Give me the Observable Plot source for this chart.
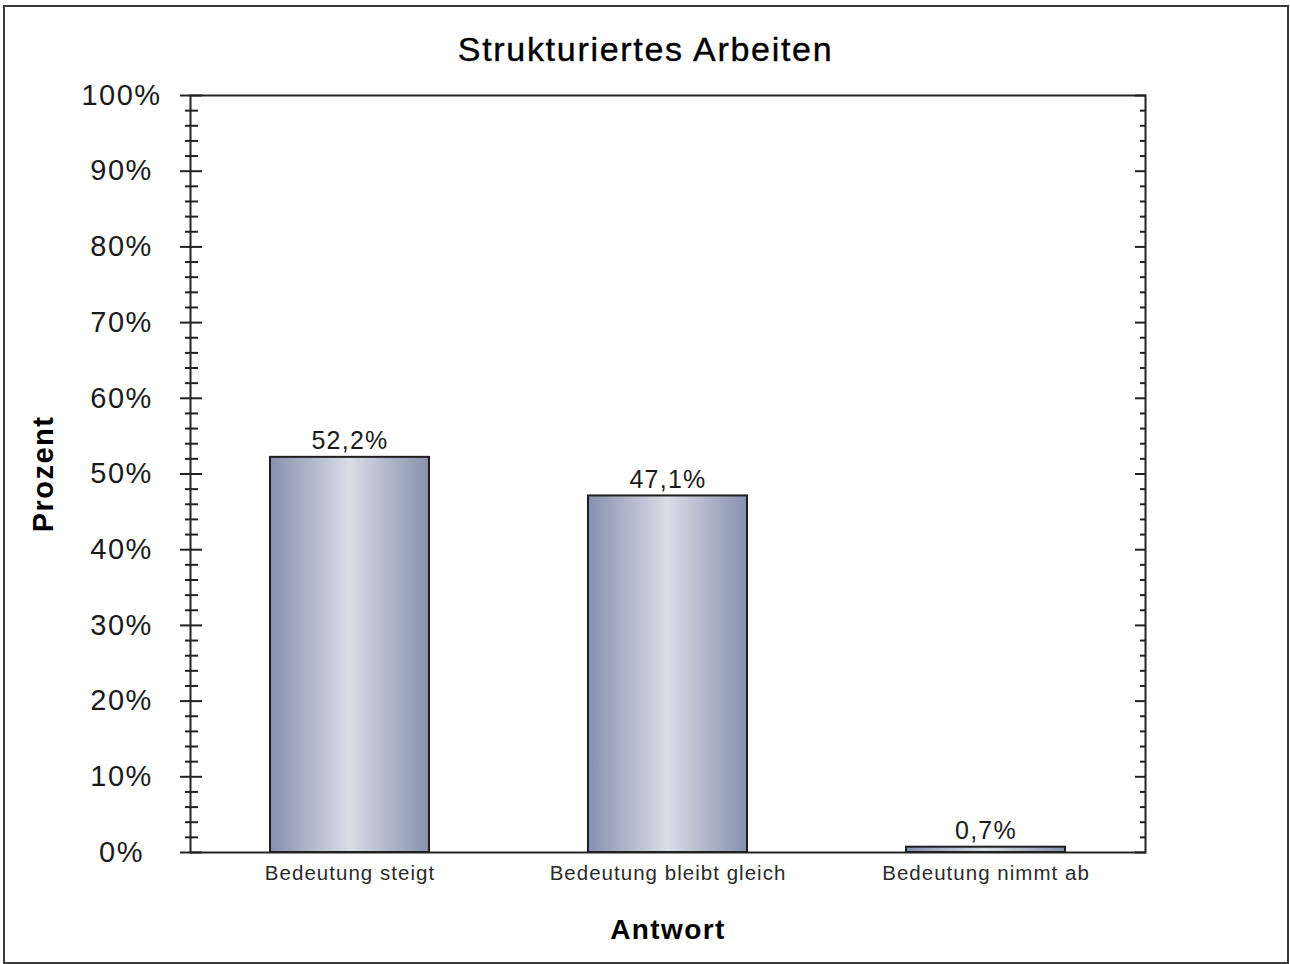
<!DOCTYPE html>
<html><head><meta charset="utf-8">
<script src="https://cdn.jsdelivr.net/npm/d3@7"></script>
<script src="https://cdn.jsdelivr.net/npm/@observablehq/plot@0.6"></script>
<style>
body{margin:0;background:#fff;}
#wrap{position:relative;width:1290px;height:964px;}
#border{position:absolute;left:3px;top:5px;width:1282px;height:955px;border:2px solid #3a3a3a;pointer-events:none;}
svg{display:block}
svg text{letter-spacing:0.05em}
</style></head><body>
<div id="wrap"><div id="border"></div></div>
<script>
const categories = ["Bedeutung steigt", "Bedeutung bleibt gleich", "Bedeutung nimmt ab"];
const values = [52.2, 47.1, 0.7];
const majorTicks = [0, 10, 20, 30, 40, 50, 60, 70, 80, 90, 100];
const minorTicks = [2,4,6,8,12,14,16,18,22,24,26,28,32,34,36,38,42,44,46,48,52,54,56,58,62,64,66,68,72,74,76,78,82,84,86,88,92,94,96,98];
const titleText = "Strukturiertes Arbeiten";
const yLabel = "Prozent";
const xLabel = "Antwort";

const data = categories.map((c, i) => ({category: c, value: values[i]}));
const fmt = v => v.toFixed(1).replace(".", ",") + "%";

const gradientDefs = () => {
  const defs = d3.create("svg:defs");
  const g = defs.append("linearGradient").attr("id", "barGrad")
    .attr("x1", "0").attr("x2", "1").attr("y1", "0").attr("y2", "0");
  g.append("stop").attr("offset", "0%").attr("stop-color", "#8790ae");
  g.append("stop").attr("offset", "50%").attr("stop-color", "#d8dde6");
  g.append("stop").attr("offset", "100%").attr("stop-color", "#8790ae");
  return defs.node();
};

const chart = Plot.plot({
  width: 1290,
  height: 964,
  marginLeft: 190,
  marginRight: 145,
  marginTop: 95,
  marginBottom: 112,
  style: {fontFamily: "'Liberation Sans', Arial, sans-serif", background: "transparent", overflow: "visible"},
  x: {domain: categories, paddingInner: 0.5, paddingOuter: 0.25},
  y: {domain: [0, 100]},
  marks: [
    gradientDefs,
    Plot.barY(data, {x: "category", y: "value", fill: "url(#barGrad)", stroke: "#1e1e1e", strokeWidth: 2}),
    Plot.frame({stroke: "#222", strokeWidth: 2}),
    Plot.axisY(majorTicks, {anchor: "left", tickSize: 22, dx: 12, strokeWidth: 2, stroke: "#222", tickFormat: () => "", label: null}),
    Plot.axisY(minorTicks, {anchor: "left", tickSize: 13, dx: 8, strokeWidth: 2, stroke: "#222", tickFormat: () => "", label: null}),
    Plot.axisY(majorTicks, {anchor: "left", tickSize: 0, tickPadding: 69, textAnchor: "middle", fontSize: 29, fill: "#1a1a1a", tickFormat: d => d + "%", label: null}),
    Plot.axisY(majorTicks, {anchor: "right", tickSize: 11, dx: -11, strokeWidth: 2, stroke: "#222", tickFormat: () => "", label: null}),
    Plot.axisY(minorTicks, {anchor: "right", tickSize: 6, dx: -6, strokeWidth: 2, stroke: "#222", tickFormat: () => "", label: null}),
    Plot.axisX({tickSize: 0, tickPadding: 13, fontSize: 20.5, fill: "#2a2a2a", label: null}),
    Plot.text(data, {x: "category", y: "value", text: d => fmt(d.value), lineAnchor: "bottom", dy: -8, fontSize: 25, fill: "#1a1a1a"}),
    Plot.text([titleText], {frameAnchor: "top", lineAnchor: "bottom", dx: -22.5, dy: -35, fontSize: 34, fill: "#000", stroke: "#000", strokeWidth: 0.4}),
    Plot.text([yLabel], {frameAnchor: "left", textAnchor: "middle", rotate: -90, dx: -147, fontSize: 29, fontWeight: "bold", fill: "#000"}),
    Plot.text([xLabel], {frameAnchor: "bottom", lineAnchor: "bottom", dy: 86, fontSize: 28, fontWeight: "bold", fill: "#000"})
  ]
});
document.getElementById("wrap").prepend(chart);
</script>
</body></html>
